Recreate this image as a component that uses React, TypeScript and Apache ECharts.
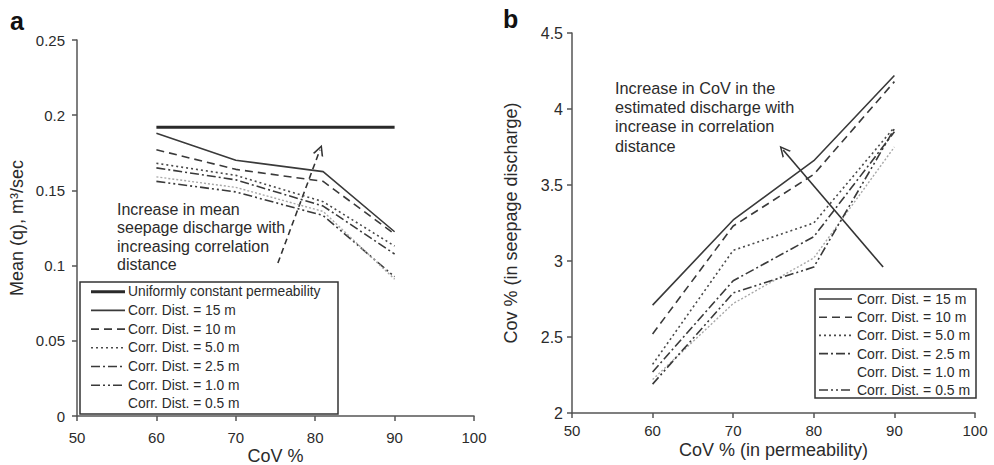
import React, { useEffect, useRef } from "react";
import * as echarts from "echarts";

// ---------- data ----------
const covA = [60, 70, 81, 90];
const covB = [60, 70, 80, 90];
const uniformX = [60, 90];
const uniformQ = [0.192, 0.192];

const meanQ15 = [0.188, 0.170, 0.1625, 0.1225];
const meanQ10 = [0.177, 0.164, 0.156, 0.121];
const meanQ5 = [0.168, 0.160, 0.1425, 0.113];
const meanQ25 = [0.165, 0.157, 0.1396, 0.1077];
const meanQ1 = [0.156, 0.149, 0.1333, 0.0926];
const meanQ05 = [0.159, 0.152, 0.136, 0.091];

const cov15 = [2.71, 3.27, 3.66, 4.22];
const cov10 = [2.52, 3.23, 3.57, 4.18];
const cov5 = [2.32, 3.07, 3.25, 3.88];
const cov25 = [2.27, 2.87, 3.16, 3.85];
const cov1 = [2.22, 2.72, 3.02, 3.75];
const cov05 = [2.19, 2.79, 2.96, 3.87];

const arrowA = [[75.3, 0.1017], [80.6, 0.177]];
const arrowB = [[88.6, 2.96], [76.2, 3.73]];

const xTicksA = [50, 100, 10];
const yTicksA = [0, 0.25, 0.05];
const yTicksB = [2, 4.5, 0.5];

const namesA = [
  "Uniformly constant permeability",
  "Corr. Dist. = 15 m",
  "Corr. Dist. = 10 m",
  "Corr. Dist. = 5.0 m",
  "Corr. Dist. = 2.5 m",
  "Corr. Dist. = 1.0 m",
  "Corr. Dist. = 0.5 m",
];
const namesB = [
  "Corr. Dist. = 15 m",
  "Corr. Dist. = 10 m",
  "Corr. Dist. = 5.0 m",
  "Corr. Dist. = 2.5 m",
  "Corr. Dist. = 1.0 m",
  "Corr. Dist. = 0.5 m",
];

const noteA = "Increase in mean\nseepage discharge with\nincreasing correlation\ndistance";
const noteB = "Increase in CoV in the\nestimated discharge with\nincrease in correlation\ndistance";

// ---------- styles ----------
const FONT = "'Liberation Sans', Arial, Helvetica, sans-serif";
const TXT = "#2b2b2b";
const AX = "#555";

type LS = { color: string; width: number; type: any; show?: boolean };
const uniformS: LS = { color: "#2a2a2a", width: 3, type: "solid" };
const solidS: LS = { color: "#3a3a3a", width: 1.6, type: "solid" };
const dashedS: LS = { color: "#3a3a3a", width: 1.6, type: [8, 5] };
const dottedS: LS = { color: "#4a4a4a", width: 1.6, type: [2, 3] };
const dashDotS: LS = { color: "#3a3a3a", width: 1.6, type: [9, 3, 2, 3] };
const dashDotDotS: LS = { color: "#3a3a3a", width: 1.6, type: [9, 3, 2, 3, 2, 3] };
const greyS: LS = { color: "#a8a8a8", width: 1.4, type: [2, 2], show: false };

const stylesA = [uniformS, solidS, dashedS, dottedS, dashDotS, dashDotDotS, greyS];
const stylesB = [solidS, dashedS, dottedS, dashDotS, { ...greyS }, dashDotDotS];

const zip = (xs: number[], ys: number[]) => xs.map((x, i) => [x, ys[i]]);

function lineSeries(name: string, xs: number[], ys: number[], s: LS, idx: number) {
  return {
    type: "line",
    name,
    xAxisIndex: idx,
    yAxisIndex: idx,
    data: zip(xs, ys),
    symbol: "none",
    lineStyle: { color: s.color, width: s.width, type: s.type },
    silent: true,
  };
}

const ARROW_PATH = "path://M5,0 L10,10 L8.4,10 L5,3 L1.6,10 L0,10 Z";

function arrowSeries(coords: number[][], idx: number, dashed: boolean) {
  return {
    type: "lines",
    coordinateSystem: "cartesian2d",
    xAxisIndex: idx,
    yAxisIndex: idx,
    silent: true,
    symbol: ["none", ARROW_PATH],
    symbolSize: [11, 11],
    lineStyle: { color: "#333", width: 1.6, type: dashed ? [6, 4] : "solid", opacity: 1, curveness: 0 },
    data: [{ coords }],
  };
}

function legendGraphic(
  names: string[],
  styles: LS[],
  box: { x: number; y: number; w: number; h: number },
  first: number,
  step: number,
  sx0: number,
  sx1: number,
  tx: number,
  fs: number
) {
  const children: any[] = [
    {
      type: "rect",
      shape: { x: box.x, y: box.y, width: box.w, height: box.h },
      style: { fill: "#fff", stroke: "#333", lineWidth: 1.5 },
    },
  ];
  names.forEach((n, i) => {
    const cy = first + i * step;
    const s = styles[i];
    if (s.show !== false) {
      children.push({
        type: "line",
        shape: { x1: sx0, y1: cy, x2: sx1, y2: cy },
        style: {
          stroke: s.color,
          lineWidth: s.width,
          lineDash: Array.isArray(s.type) ? s.type : null,
        },
      });
    }
    children.push({
      type: "text",
      x: tx,
      y: cy,
      style: {
        text: n,
        fontSize: fs,
        fontFamily: FONT,
        fill: TXT,
        textVerticalAlign: "middle",
        verticalAlign: "middle",
      },
    });
  });
  return { type: "group", children };
}

function axisCommon(labelMargin: number) {
  return {
    axisLine: { show: true, onZero: false, lineStyle: { color: AX, width: 1.5 } },
    axisTick: { show: true, length: 5, lineStyle: { color: AX, width: 1.5 } },
    splitLine: { show: false },
    axisLabel: { fontSize: 15, color: TXT, fontFamily: FONT, margin: labelMargin },
    nameLocation: "middle",
    nameMoveOverlap: false,
    nameTextStyle: { fontSize: 18, color: TXT, fontFamily: FONT },
  };
}

export default function App() {
  const ref = useRef<HTMLDivElement>(null);
  useEffect(() => {
    if (!ref.current) return;
    const chart = echarts.init(ref.current, null, { renderer: "svg" });
    const seriesA = [
      lineSeries(namesA[0], uniformX, uniformQ, uniformS, 0),
      lineSeries(namesA[1], covA, meanQ15, solidS, 0),
      lineSeries(namesA[2], covA, meanQ10, dashedS, 0),
      lineSeries(namesA[3], covA, meanQ5, dottedS, 0),
      lineSeries(namesA[4], covA, meanQ25, dashDotS, 0),
      lineSeries(namesA[5], covA, meanQ1, dashDotDotS, 0),
      lineSeries(namesA[6], covA, meanQ05, greyS, 0),
      arrowSeries(arrowA, 0, true),
    ];
    const seriesB = [
      lineSeries(namesB[0], covB, cov15, solidS, 1),
      lineSeries(namesB[1], covB, cov10, dashedS, 1),
      lineSeries(namesB[2], covB, cov5, dottedS, 1),
      lineSeries(namesB[3], covB, cov25, dashDotS, 1),
      lineSeries(namesB[4], covB, cov1, greyS, 1),
      lineSeries(namesB[5], covB, cov05, dashDotDotS, 1),
      arrowSeries(arrowB, 1, false),
    ];
    const option: any = {
      animation: false,
      backgroundColor: "#fff",
      textStyle: { fontFamily: FONT },
      grid: [
        { left: 77, top: 40, width: 397, height: 376, containLabel: false, outerBoundsMode: "none" },
        { left: 572, top: 33, width: 403, height: 380, containLabel: false, outerBoundsMode: "none" },
      ],
      xAxis: [
        {
          ...axisCommon(14),
          gridIndex: 0,
          type: "value",
          min: xTicksA[0],
          max: xTicksA[1],
          interval: xTicksA[2],
          name: "CoV %",
          nameGap: 31,
        },
        {
          ...axisCommon(10),
          gridIndex: 1,
          type: "value",
          min: xTicksA[0],
          max: xTicksA[1],
          interval: xTicksA[2],
          name: "CoV % (in permeability)",
          nameGap: 28,
        },
      ],
      yAxis: [
        {
          ...axisCommon(12),
          gridIndex: 0,
          type: "value",
          min: yTicksA[0],
          max: yTicksA[1],
          interval: yTicksA[2],
          name: "Mean (q), m³/sec",
          nameGap: 51,
        },
        {
          ...axisCommon(9),
          gridIndex: 1,
          type: "value",
          min: yTicksB[0],
          max: yTicksB[1],
          interval: yTicksB[2],
          name: "Cov % (in seepage discharge)",
          nameGap: 52,
          axisLabel: { fontSize: 16, color: TXT, fontFamily: FONT, margin: 9 },
        },
      ],
      series: [...seriesA, ...seriesB],
      graphic: [
        {
          type: "text",
          x: 10,
          y: 8,
          style: { text: "a", fontSize: 25, fontWeight: "bold", fontFamily: FONT, fill: "#111" },
        },
        {
          type: "text",
          x: 503,
          y: 6,
          style: { text: "b", fontSize: 25, fontWeight: "bold", fontFamily: FONT, fill: "#111" },
        },
        {
          type: "text",
          x: 117,
          y: 200,
          style: { text: noteA, fontSize: 16, lineHeight: 18.5, fontFamily: FONT, fill: TXT },
        },
        {
          type: "text",
          x: 615,
          y: 78,
          style: { text: noteB, fontSize: 16.3, lineHeight: 19.3, fontFamily: FONT, fill: TXT },
        },
        legendGraphic(namesA, stylesA, { x: 80, y: 282, w: 258, h: 132 }, 291.7, 18.7, 91, 125, 128, 13.8),
        legendGraphic(namesB, stylesB, { x: 815, y: 289, w: 161, h: 109 }, 299, 18.2, 819, 852, 857, 14),
      ],
    };
    chart.setOption(option);
    return () => chart.dispose();
  }, []);
  return (
    <div
      ref={ref}
      style={{ position: "absolute", left: 0, top: 0, width: 994, height: 465, background: "#fff" }}
    />
  );
}
